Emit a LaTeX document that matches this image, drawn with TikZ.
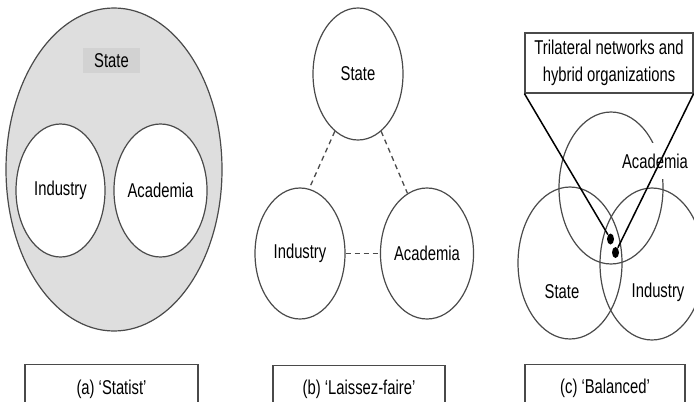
\documentclass[tikz,border=0pt]{standalone}
\usepackage{fontspec}
\setmainfont{Liberation Sans}[FakeStretch=0.74]
\usepackage{tikz}
\usetikzlibrary{shapes.geometric}
\definecolor{ringcol}{HTML}{4A4A4A}
\definecolor{statefill}{HTML}{DEDEDE}
\definecolor{tagfill}{HTML}{D2D2D2}

\begin{document}
\begin{tikzpicture}[x=0.5pt, y=-0.5pt,
  every node/.style={font=\fontsize{10}{13.5}\selectfont},
  ring/.style={
    draw=ringcol, line width=0.6pt, ellipse, inner sep=0pt
  },
  capbox/.style={
    draw=ringcol, line width=0.6pt, anchor=north, inner sep=0pt,
    minimum width=#1, minimum height=24.5pt
  },
  tie/.style={draw=ringcol, line width=0.65pt, dash pattern=on 2.5pt off 2pt},
  dot/.style={fill=black, ellipse, minimum width=3.5pt, minimum height=5.5pt, inner sep=0pt},
  pointer/.style={black, line width=0.75pt}
]
  \useasboundingbox (0,0) rectangle (694,401);
  \clip (0,0) rectangle (694,401);

  % (a) statist
  \node[ring, fill=statefill, minimum width=108pt, minimum height=161.5pt] (aState) at (114,169.5) {};
  \node[fill=tagfill, minimum width=28.5pt, minimum height=12.5pt, inner sep=0pt] (aStateL) at (111.5,60.5) {State};
  \node[ring, fill=white, minimum width=44.5pt, minimum height=66.5pt] (aInd) at (60.5,190.5) {Industry};
  \node[ring, fill=white, minimum width=44.5pt, minimum height=66.5pt] (aAca) at (160.5,190.5) {Academia};
  \node[capbox=86.5pt] (aCap) at (111.5,364) {(a) `Statist'};

  % (b) laissez-faire
  \node[ring, minimum width=45pt, minimum height=66pt] (bState) at (358,74) {State};
  \node[ring, minimum width=45pt, minimum height=65.5pt] (bInd) at (300,253.5) {Industry};
  \node[ring, minimum width=44pt, minimum height=65.5pt] (bAca) at (427,253.5) {Academia};
  \draw[tie] (bState.248) -- (bInd.82);
  \draw[tie] (bState.292) -- (bAca.108);
  \draw[tie] (bInd.east) -- (bAca.west);
  \node[capbox=86pt] (bCap) at (359,364.5) {(b) `Laissez-faire'};

  % (c) balanced
  \node[ring, minimum width=52pt, minimum height=76pt] (cAca) at (611,188) {};
  \node[ring, minimum width=52pt, minimum height=76pt] (cState) at (570,263) {};
  \node[ring, minimum width=52pt, minimum height=76pt] (cInd) at (652,264) {};
  \node (cStateL) at (562,292) {State};
  \node (cIndL) at (658,292) {Industry};
  \node[fill=white, inner xsep=2pt, inner ysep=5.5pt] (cAcaL) at (655,161) {Academia};
  \node[draw=ringcol, line width=0.6pt, align=center, minimum width=84pt, minimum height=30pt, inner sep=0pt] (cNet) at (609,63)
    {Trilateral networks and\\hybrid organizations};
  \node[dot] (cDot1) at (610.5,239) {};
  \node[dot] (cDot2) at (615.5,252.5) {};
  \draw[pointer] (cNet.south west) -- (cDot1);
  \draw[pointer] (cNet.south east) -- (cDot2);
  \node[capbox=80pt] (cCap) at (605,363.5) {(c) `Balanced'};
\end{tikzpicture}
\end{document}
